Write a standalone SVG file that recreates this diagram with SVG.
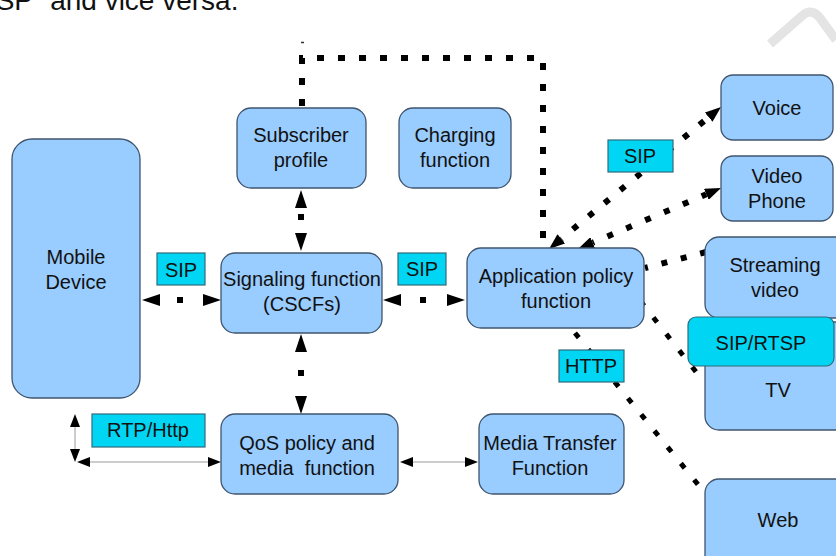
<svg xmlns="http://www.w3.org/2000/svg" width="836" height="556" viewBox="0 0 836 556">
<style>
text{font-family:"Liberation Sans",Arial,sans-serif;font-size:20px;fill:#111;text-anchor:middle}
.box{fill:#99ccff;stroke:#3f556e;stroke-width:1.3}
.lbl{fill:#00d6f3;stroke:#2f6c7c;stroke-width:1.2}
.dot{fill:none;stroke:#000;stroke-width:6}
.dd{fill:none;stroke:#000;stroke-width:5}
.thin{fill:none;stroke:#9a9a9a;stroke-width:1}
.top{font-size:28px;text-anchor:start}
</style>
<defs>
<marker id="ah" markerUnits="userSpaceOnUse" markerWidth="18" markerHeight="12" viewBox="0 0 18 12" refX="0" refY="6" orient="auto-start-reverse"><path d="M0,0 L18,6 L0,12 Z" fill="#000"/></marker>
<marker id="ad" markerUnits="userSpaceOnUse" markerWidth="16" markerHeight="12" viewBox="0 0 16 12" refX="0" refY="6" orient="auto-start-reverse"><path d="M0,0 L16,6 L0,12 Z" fill="#000"/></marker>
<marker id="at" markerUnits="userSpaceOnUse" markerWidth="13" markerHeight="10" viewBox="0 0 13 10" refX="0" refY="5" orient="auto-start-reverse"><path d="M0,0 L13,5 L0,10 Z" fill="#000"/></marker>
</defs>
<rect width="836" height="556" fill="#fff"/>
<text class="top" x="-23" y="10">PSP” and vice versa.</text>
<path d="M770,44 L803,15 Q812,8 820,18 L836,40" fill="none" stroke="#e4e4e4" stroke-width="9"/>

<g id="connectors">
  <path d="M301,42.5 H304" stroke="#333" stroke-width="1.5"/>
  <path class="dot" d="M302,108 V58 H543 V249" stroke-dasharray="7 14" stroke-dashoffset="19"/>
  <path class="dot" d="M160,300 H203" stroke-dasharray="6 200" stroke-dashoffset="189" marker-start="url(#ah)" marker-end="url(#ah)"/>
  <path class="dot" d="M401,300 H447" stroke-dasharray="6 200" stroke-dashoffset="187" marker-start="url(#ah)" marker-end="url(#ah)"/>
  <path class="dot" d="M301,208 V233" stroke-dasharray="6 200" stroke-dashoffset="200" marker-start="url(#ah)" marker-end="url(#ah)"/>
  <path class="dot" d="M301,352 V396" stroke-dasharray="6 200" stroke-dashoffset="188" marker-start="url(#ah)" marker-end="url(#ah)"/>
  <path class="dot" d="M561.3,238.8 L708.7,117.2" stroke-dasharray="6 14.5" stroke-dashoffset="5.5" marker-start="url(#ad)" marker-end="url(#ad)"/>
  <path class="dot" d="M592.7,242.7 L706.3,194.3" stroke-dasharray="6 14.5" stroke-dashoffset="4.5" marker-start="url(#ad)" marker-end="url(#ad)"/>
  <path class="dot" d="M645,268 L706,252" stroke-dasharray="6 14" stroke-dashoffset="3"/>
  <path class="dd" d="M642,303 L700,377" stroke-dasharray="6 15" stroke-dashoffset="2.6"/>
  <path class="dd" d="M575,333 L700,487" stroke-dasharray="6 15"/>
  <path class="thin" d="M75,427 V449" marker-start="url(#at)" marker-end="url(#at)"/>
  <path class="thin" d="M90,462 H208" marker-start="url(#at)" marker-end="url(#at)"/>
  <path class="thin" d="M413,462 H465" marker-start="url(#at)" marker-end="url(#at)"/>
</g>

<g id="mobile-device"><rect class="box" x="12" y="139" width="128" height="259" rx="20"/><text x="76" y="264">Mobile</text><text x="76" y="289">Device</text></g>
<g id="subscriber-profile"><rect class="box" x="237" y="108" width="129" height="80" rx="14"/><text x="301" y="142">Subscriber</text><text x="301" y="167">profile</text></g>
<g id="charging-function"><rect class="box" x="399" y="108" width="112" height="80" rx="14"/><text x="455" y="142">Charging</text><text x="455" y="167">function</text></g>
<g id="signaling-function"><rect class="box" x="221" y="253" width="161" height="80" rx="14"/><text x="302" y="286">Signaling function</text><text x="302" y="311">(CSCFs)</text></g>
<g id="application-policy"><rect class="box" x="467" y="248" width="177" height="80" rx="14"/><text x="556" y="283">Application policy</text><text x="556" y="308">function</text></g>
<g id="qos-policy"><rect class="box" x="221" y="414" width="177" height="80" rx="14"/><text x="307" y="450">QoS policy and</text><text x="307" y="475" xml:space="preserve">media  function</text></g>
<g id="media-transfer"><rect class="box" x="479" y="414" width="145" height="80" rx="14"/><text x="550" y="450">Media Transfer</text><text x="550" y="475">Function</text></g>
<g id="voice"><rect class="box" x="721" y="75" width="112" height="65" rx="12"/><text x="777" y="115">Voice</text></g>
<g id="video-phone"><rect class="box" x="721" y="156" width="112" height="65" rx="12"/><text x="777" y="183">Video</text><text x="777" y="208">Phone</text></g>
<g id="streaming-video"><rect class="box" x="705" y="237" width="145" height="81" rx="14"/><text x="775" y="272">Streaming</text><text x="775" y="297">video</text></g>
<g id="tv"><rect class="box" x="705" y="322" width="145" height="108" rx="14"/><text x="778" y="397">TV</text></g>
<g id="web"><rect class="box" x="705" y="479" width="145" height="100" rx="14"/><text x="778" y="527">Web</text></g>

<g id="label-sip-left"><rect class="lbl" x="157" y="253" width="48" height="32"/><text x="181" y="277">SIP</text></g>
<g id="label-sip-mid"><rect class="lbl" x="398" y="253" width="48" height="32"/><text x="422" y="276">SIP</text></g>
<g id="label-sip-top"><rect class="lbl" x="608" y="140" width="65" height="32"/><text x="640" y="163">SIP</text></g>
<g id="label-http"><rect class="lbl" x="559" y="350" width="65" height="32"/><text x="591" y="373">HTTP</text></g>
<g id="label-rtp"><rect class="lbl" x="92" y="414" width="113" height="33"/><text x="148" y="437">RTP/Http</text></g>
<g id="label-sip-rtsp"><rect class="lbl" x="688" y="317" width="146" height="49" rx="8"/><text x="761" y="350">SIP/RTSP</text></g>
</svg>
